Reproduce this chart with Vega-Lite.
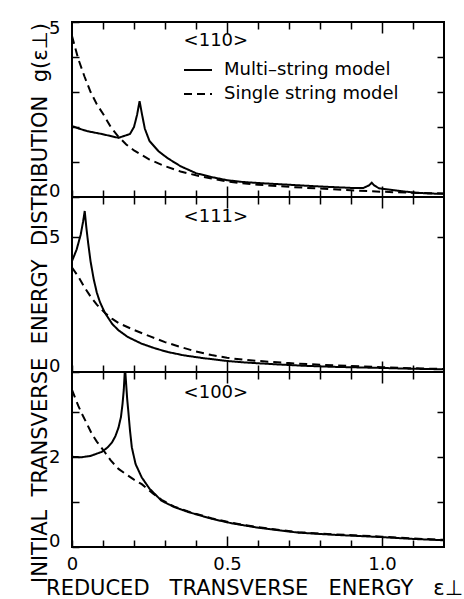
{
  "$schema": "https://vega.github.io/schema/vega-lite/v6.json",
  "padding": {"left": 27, "top": 18, "right": 4, "bottom": 0},
  "spacing": 0,
  "bounds": "flush",
  "config": {
    "view": {"stroke": "black", "strokeWidth": 2},
    "font": "DejaVu Sans",
    "axis": {"domain": false, "grid": false, "tickColor": "black", "tickWidth": 1.5, "labelColor": "black", "labelFont": "DejaVu Sans", "labelFontSize": 18, "titleColor": "black", "titleFont": "DejaVu Sans", "titleFontSize": 21, "titleFontWeight": "normal"},
    "axisY": {"labelFlush": true, "labelFlushOffset": 3, "labelPadding": 19},
    "axisX": {"labelFlush": false},
    "line": {"strokeWidth": 2, "color": "black"}
  },
  "data": {"values": [
    {"p":"110","m":"Multi–string model","e":0,"g":2.03},
    {"p":"110","m":"Multi–string model","e":0.02,"g":1.96},
    {"p":"110","m":"Multi–string model","e":0.05,"g":1.88},
    {"p":"110","m":"Multi–string model","e":0.096,"g":1.8},
    {"p":"110","m":"Multi–string model","e":0.15,"g":1.69},
    {"p":"110","m":"Multi–string model","e":0.187,"g":1.8},
    {"p":"110","m":"Multi–string model","e":0.2,"g":2.0},
    {"p":"110","m":"Multi–string model","e":0.21,"g":2.35},
    {"p":"110","m":"Multi–string model","e":0.218,"g":2.74},
    {"p":"110","m":"Multi–string model","e":0.225,"g":2.4},
    {"p":"110","m":"Multi–string model","e":0.235,"g":1.95},
    {"p":"110","m":"Multi–string model","e":0.25,"g":1.6},
    {"p":"110","m":"Multi–string model","e":0.28,"g":1.3},
    {"p":"110","m":"Multi–string model","e":0.31,"g":1.1},
    {"p":"110","m":"Multi–string model","e":0.35,"g":0.88},
    {"p":"110","m":"Multi–string model","e":0.4,"g":0.68},
    {"p":"110","m":"Multi–string model","e":0.45,"g":0.57},
    {"p":"110","m":"Multi–string model","e":0.5,"g":0.48},
    {"p":"110","m":"Multi–string model","e":0.55,"g":0.43},
    {"p":"110","m":"Multi–string model","e":0.6,"g":0.4},
    {"p":"110","m":"Multi–string model","e":0.7,"g":0.35},
    {"p":"110","m":"Multi–string model","e":0.8,"g":0.3},
    {"p":"110","m":"Multi–string model","e":0.9,"g":0.26},
    {"p":"110","m":"Multi–string model","e":0.94,"g":0.26},
    {"p":"110","m":"Multi–string model","e":0.958,"g":0.33},
    {"p":"110","m":"Multi–string model","e":0.967,"g":0.41},
    {"p":"110","m":"Multi–string model","e":0.975,"g":0.33},
    {"p":"110","m":"Multi–string model","e":0.99,"g":0.25},
    {"p":"110","m":"Multi–string model","e":1.05,"g":0.18},
    {"p":"110","m":"Multi–string model","e":1.1,"g":0.13},
    {"p":"110","m":"Multi–string model","e":1.15,"g":0.1},
    {"p":"110","m":"Multi–string model","e":1.2,"g":0.09},
    {"p":"110","m":"Single string model","e":0,"g":4.6},
    {"p":"110","m":"Single string model","e":0.02,"g":3.95},
    {"p":"110","m":"Single string model","e":0.04,"g":3.45},
    {"p":"110","m":"Single string model","e":0.06,"g":3.0},
    {"p":"110","m":"Single string model","e":0.08,"g":2.65},
    {"p":"110","m":"Single string model","e":0.1,"g":2.38},
    {"p":"110","m":"Single string model","e":0.125,"g":2.0},
    {"p":"110","m":"Single string model","e":0.15,"g":1.72},
    {"p":"110","m":"Single string model","e":0.175,"g":1.5},
    {"p":"110","m":"Single string model","e":0.2,"g":1.33},
    {"p":"110","m":"Single string model","e":0.25,"g":1.07},
    {"p":"110","m":"Single string model","e":0.3,"g":0.88},
    {"p":"110","m":"Single string model","e":0.35,"g":0.73},
    {"p":"110","m":"Single string model","e":0.4,"g":0.62},
    {"p":"110","m":"Single string model","e":0.45,"g":0.53},
    {"p":"110","m":"Single string model","e":0.5,"g":0.44},
    {"p":"110","m":"Single string model","e":0.6,"g":0.35},
    {"p":"110","m":"Single string model","e":0.7,"g":0.29},
    {"p":"110","m":"Single string model","e":0.8,"g":0.24},
    {"p":"110","m":"Single string model","e":0.9,"g":0.19},
    {"p":"110","m":"Single string model","e":1.0,"g":0.15},
    {"p":"110","m":"Single string model","e":1.1,"g":0.12},
    {"p":"110","m":"Single string model","e":1.2,"g":0.1},
    {"p":"111","m":"Multi–string model","e":0,"g":4.12},
    {"p":"111","m":"Multi–string model","e":0.015,"g":4.55},
    {"p":"111","m":"Multi–string model","e":0.028,"g":5.1},
    {"p":"111","m":"Multi–string model","e":0.036,"g":5.6},
    {"p":"111","m":"Multi–string model","e":0.041,"g":5.98},
    {"p":"111","m":"Multi–string model","e":0.046,"g":5.4},
    {"p":"111","m":"Multi–string model","e":0.052,"g":4.8},
    {"p":"111","m":"Multi–string model","e":0.06,"g":4.1},
    {"p":"111","m":"Multi–string model","e":0.07,"g":3.45},
    {"p":"111","m":"Multi–string model","e":0.08,"g":2.95},
    {"p":"111","m":"Multi–string model","e":0.09,"g":2.6},
    {"p":"111","m":"Multi–string model","e":0.106,"g":2.2},
    {"p":"111","m":"Multi–string model","e":0.13,"g":1.78},
    {"p":"111","m":"Multi–string model","e":0.15,"g":1.55},
    {"p":"111","m":"Multi–string model","e":0.18,"g":1.3},
    {"p":"111","m":"Multi–string model","e":0.225,"g":1.05},
    {"p":"111","m":"Multi–string model","e":0.27,"g":0.87},
    {"p":"111","m":"Multi–string model","e":0.31,"g":0.74},
    {"p":"111","m":"Multi–string model","e":0.36,"g":0.62},
    {"p":"111","m":"Multi–string model","e":0.42,"g":0.52},
    {"p":"111","m":"Multi–string model","e":0.5,"g":0.41},
    {"p":"111","m":"Multi–string model","e":0.55,"g":0.36},
    {"p":"111","m":"Multi–string model","e":0.65,"g":0.29},
    {"p":"111","m":"Multi–string model","e":0.75,"g":0.23},
    {"p":"111","m":"Multi–string model","e":0.85,"g":0.19},
    {"p":"111","m":"Multi–string model","e":1.0,"g":0.15},
    {"p":"111","m":"Multi–string model","e":1.1,"g":0.12},
    {"p":"111","m":"Multi–string model","e":1.2,"g":0.1},
    {"p":"111","m":"Single string model","e":0,"g":3.88},
    {"p":"111","m":"Single string model","e":0.02,"g":3.55},
    {"p":"111","m":"Single string model","e":0.04,"g":3.15},
    {"p":"111","m":"Single string model","e":0.06,"g":2.8},
    {"p":"111","m":"Single string model","e":0.08,"g":2.5},
    {"p":"111","m":"Single string model","e":0.106,"g":2.2},
    {"p":"111","m":"Single string model","e":0.13,"g":1.97},
    {"p":"111","m":"Single string model","e":0.15,"g":1.82},
    {"p":"111","m":"Single string model","e":0.2,"g":1.56},
    {"p":"111","m":"Single string model","e":0.25,"g":1.33},
    {"p":"111","m":"Single string model","e":0.3,"g":1.11},
    {"p":"111","m":"Single string model","e":0.35,"g":0.93},
    {"p":"111","m":"Single string model","e":0.4,"g":0.76},
    {"p":"111","m":"Single string model","e":0.45,"g":0.63},
    {"p":"111","m":"Single string model","e":0.5,"g":0.53},
    {"p":"111","m":"Single string model","e":0.55,"g":0.46},
    {"p":"111","m":"Single string model","e":0.6,"g":0.41},
    {"p":"111","m":"Single string model","e":0.7,"g":0.33},
    {"p":"111","m":"Single string model","e":0.8,"g":0.27},
    {"p":"111","m":"Single string model","e":0.9,"g":0.22},
    {"p":"111","m":"Single string model","e":1.0,"g":0.18},
    {"p":"111","m":"Single string model","e":1.1,"g":0.14},
    {"p":"111","m":"Single string model","e":1.2,"g":0.11},
    {"p":"100","m":"Multi–string model","e":0,"g":2.01},
    {"p":"100","m":"Multi–string model","e":0.03,"g":2.0},
    {"p":"100","m":"Multi–string model","e":0.06,"g":2.03},
    {"p":"100","m":"Multi–string model","e":0.096,"g":2.12},
    {"p":"100","m":"Multi–string model","e":0.115,"g":2.22},
    {"p":"100","m":"Multi–string model","e":0.129,"g":2.33},
    {"p":"100","m":"Multi–string model","e":0.14,"g":2.47},
    {"p":"100","m":"Multi–string model","e":0.15,"g":2.66},
    {"p":"100","m":"Multi–string model","e":0.158,"g":2.9},
    {"p":"100","m":"Multi–string model","e":0.163,"g":3.19},
    {"p":"100","m":"Multi–string model","e":0.167,"g":3.5},
    {"p":"100","m":"Multi–string model","e":0.171,"g":4.0},
    {"p":"100","m":"Multi–string model","e":0.175,"g":3.6},
    {"p":"100","m":"Multi–string model","e":0.178,"g":3.3},
    {"p":"100","m":"Multi–string model","e":0.182,"g":3.0},
    {"p":"100","m":"Multi–string model","e":0.187,"g":2.6},
    {"p":"100","m":"Multi–string model","e":0.193,"g":2.22},
    {"p":"100","m":"Multi–string model","e":0.205,"g":1.85},
    {"p":"100","m":"Multi–string model","e":0.225,"g":1.55},
    {"p":"100","m":"Multi–string model","e":0.25,"g":1.3},
    {"p":"100","m":"Multi–string model","e":0.289,"g":1.03},
    {"p":"100","m":"Multi–string model","e":0.33,"g":0.89},
    {"p":"100","m":"Multi–string model","e":0.375,"g":0.78},
    {"p":"100","m":"Multi–string model","e":0.45,"g":0.63},
    {"p":"100","m":"Multi–string model","e":0.514,"g":0.53},
    {"p":"100","m":"Multi–string model","e":0.6,"g":0.43},
    {"p":"100","m":"Multi–string model","e":0.73,"g":0.32},
    {"p":"100","m":"Multi–string model","e":0.85,"g":0.27},
    {"p":"100","m":"Multi–string model","e":1.0,"g":0.22},
    {"p":"100","m":"Multi–string model","e":1.1,"g":0.18},
    {"p":"100","m":"Multi–string model","e":1.2,"g":0.15},
    {"p":"100","m":"Single string model","e":0,"g":3.5},
    {"p":"100","m":"Single string model","e":0.02,"g":3.15},
    {"p":"100","m":"Single string model","e":0.032,"g":2.97},
    {"p":"100","m":"Single string model","e":0.05,"g":2.72},
    {"p":"100","m":"Single string model","e":0.064,"g":2.52},
    {"p":"100","m":"Single string model","e":0.08,"g":2.35},
    {"p":"100","m":"Single string model","e":0.102,"g":2.15},
    {"p":"100","m":"Single string model","e":0.125,"g":1.93},
    {"p":"100","m":"Single string model","e":0.15,"g":1.74},
    {"p":"100","m":"Single string model","e":0.2,"g":1.5},
    {"p":"100","m":"Single string model","e":0.225,"g":1.4},
    {"p":"100","m":"Single string model","e":0.26,"g":1.2},
    {"p":"100","m":"Single string model","e":0.289,"g":1.05},
    {"p":"100","m":"Single string model","e":0.33,"g":0.9},
    {"p":"100","m":"Single string model","e":0.375,"g":0.79},
    {"p":"100","m":"Single string model","e":0.45,"g":0.64},
    {"p":"100","m":"Single string model","e":0.514,"g":0.54},
    {"p":"100","m":"Single string model","e":0.6,"g":0.44},
    {"p":"100","m":"Single string model","e":0.73,"g":0.33},
    {"p":"100","m":"Single string model","e":0.85,"g":0.28},
    {"p":"100","m":"Single string model","e":1.0,"g":0.23},
    {"p":"100","m":"Single string model","e":1.1,"g":0.19},
    {"p":"100","m":"Single string model","e":1.2,"g":0.16}
  ]},
  "resolve": {"scale": {"strokeDash": "independent"}, "legend": {"strokeDash": "independent"}},
  "vconcat": [
    {
      "width": 372, "height": 175,
      "layer": [
        {
          "transform": [{"filter": "datum.p == '110'"}],
          "mark": {"type": "line", "clip": true, "strokeWidth": 2, "color": "black"},
          "encoding": {
            "x": {"field": "e", "type": "quantitative", "scale": {"domain": [0, 1.2], "nice": false, "zero": false},
                  "axis": {"orient": "bottom", "values": [0,0.1,0.2,0.3,0.4,0.5,0.6,0.7,0.8,0.9,1.0,1.1], "labels": false, "title": null,
                           "tickSize": {"condition": {"test": "abs(datum.value-0.5)<0.001 || abs(datum.value-1)<0.001", "value": -11}, "value": -7}}},
            "y": {"field": "g", "type": "quantitative", "scale": {"domain": [0, 5], "nice": false},
                  "axis": {"orient": "left", "values": [0,1,2,3,4,5], "tickSize": -7, "title": null,
                           "labelExpr": "datum.value == 0 || datum.value == 5 ? datum.label : ''"}},
            "strokeDash": {"field": "m", "type": "nominal",
                           "scale": {"domain": ["Multi–string model", "Single string model"], "range": [[1, 0], [8, 5]]},
                           "legend": {"orient": "none", "legendX": 111, "legendY": 33, "title": null, "symbolType": "stroke",
                                      "symbolSize": 784, "symbolStrokeWidth": 2, "symbolStrokeColor": "black", "rowPadding": -2,
                                      "labelFont": "DejaVu Sans", "labelFontSize": 18, "labelColor": "black", "labelOffset": 11,
                                      "labelLimit": 400, "padding": 0}}
          }
        },
        {
          "transform": [{"filter": "datum.p == '110'"}],
          "mark": {"type": "line", "opacity": 0},
          "encoding": {
            "x": {"field": "e", "type": "quantitative",
                  "axis": {"orient": "top", "values": [0.1,0.2,0.3,0.4,0.5,0.6,0.7,0.8,0.9,1.0,1.1], "labels": false, "title": null,
                           "tickSize": {"condition": {"test": "abs(datum.value-0.5)<0.001 || abs(datum.value-1)<0.001", "value": -11}, "value": -7}}},
            "y": {"field": "g", "type": "quantitative",
                  "axis": {"orient": "right", "values": [1,2,3,4], "labels": false, "tickSize": -7, "title": null}},
            "detail": {"field": "m"}
          }
        },
        {
          "data": {"values": [{}]},
          "mark": {"type": "text", "align": "left", "baseline": "middle", "fontSize": 18, "font": "DejaVu Sans", "color": "black"},
          "encoding": {
            "x": {"datum": 0.36, "type": "quantitative", "axis": null},
            "y": {"datum": 4.46, "type": "quantitative", "axis": null},
            "text": {"value": "<110>"}
          }
        }
      ]
    },
    {
      "width": 372, "height": 175,
      "layer": [
        {
          "transform": [{"filter": "datum.p == '111'"}],
          "mark": {"type": "line", "clip": true, "strokeWidth": 2, "color": "black"},
          "encoding": {
            "x": {"field": "e", "type": "quantitative", "scale": {"domain": [0, 1.2], "nice": false, "zero": false},
                  "axis": {"orient": "bottom", "values": [0,0.1,0.2,0.3,0.4,0.5,0.6,0.7,0.8,0.9,1.0,1.1], "labels": false, "title": null,
                           "tickSize": {"condition": {"test": "abs(datum.value-0.5)<0.001 || abs(datum.value-1)<0.001", "value": -11}, "value": -7}}},
            "y": {"field": "g", "type": "quantitative", "scale": {"domain": [0, 6.5], "nice": false},
                  "axis": {"orient": "left", "values": [0,5], "tickSize": -7,
                           "title": "INITIAL\u00a0\u00a0TRANSVERSE\u00a0\u00a0ENERGY\u00a0\u00a0DISTRIBUTION\u00a0\u00a0g(ε⊥)",
                           "titleY": 105.5, "titleX": -22, "titleBaseline": "bottom", "titleAngle": 270}},
            "strokeDash": {"field": "m", "type": "nominal",
                           "scale": {"domain": ["Multi–string model", "Single string model"], "range": [[1, 0], [8, 5]]},
                           "legend": null}
          }
        },
        {
          "transform": [{"filter": "datum.p == '111'"}],
          "mark": {"type": "line", "opacity": 0},
          "encoding": {
            "x": {"field": "e", "type": "quantitative",
                  "axis": {"orient": "top", "values": [0.1,0.2,0.3,0.4,0.5,0.6,0.7,0.8,0.9,1.0,1.1], "labels": false, "title": null,
                           "tickSize": {"condition": {"test": "abs(datum.value-0.5)<0.001 || abs(datum.value-1)<0.001", "value": -11}, "value": -7}}},
            "y": {"field": "g", "type": "quantitative",
                  "axis": {"orient": "right", "values": [5], "labels": false, "tickSize": -7, "title": null}},
            "detail": {"field": "m"}
          }
        },
        {
          "data": {"values": [{}]},
          "mark": {"type": "text", "align": "left", "baseline": "middle", "fontSize": 18, "font": "DejaVu Sans", "color": "black"},
          "encoding": {
            "x": {"datum": 0.36, "type": "quantitative", "axis": null},
            "y": {"datum": 5.75, "type": "quantitative", "axis": null},
            "text": {"value": "<111>"}
          }
        }
      ]
    },
    {
      "width": 372, "height": 175,
      "layer": [
        {
          "transform": [{"filter": "datum.p == '100'"}],
          "mark": {"type": "line", "clip": true, "strokeWidth": 2, "color": "black"},
          "encoding": {
            "x": {"field": "e", "type": "quantitative", "scale": {"domain": [0, 1.2], "nice": false, "zero": false},
                  "axis": {"orient": "bottom", "values": [0,0.1,0.2,0.3,0.4,0.5,0.6,0.7,0.8,0.9,1.0,1.1],
                           "labelPadding": {"condition": {"test": "abs(datum.value-0.5)<0.001 || abs(datum.value-1)<0.001", "value": 19}, "value": 15},
                           "labelExpr": "datum.value == 0 ? '0' : (abs(datum.value-0.5)<0.001 || abs(datum.value-1)<0.001) ? format(datum.value, '.1f') : ''",
                           "title": "REDUCED\u00a0\u00a0\u00a0TRANSVERSE\u00a0\u00a0\u00a0ENERGY\u00a0\u00a0\u00a0ε⊥", "titlePadding": 4, "titleX": 182,
                           "tickSize": {"condition": {"test": "abs(datum.value-0.5)<0.001 || abs(datum.value-1)<0.001", "value": -11}, "value": -7}}},
            "y": {"field": "g", "type": "quantitative", "scale": {"domain": [0, 3.9], "nice": false},
                  "axis": {"orient": "left", "values": [0,1,2,3], "tickSize": -7, "title": null,
                           "labelExpr": "datum.value == 0 || datum.value == 2 ? datum.label : ''"}},
            "strokeDash": {"field": "m", "type": "nominal",
                           "scale": {"domain": ["Multi–string model", "Single string model"], "range": [[1, 0], [8, 5]]},
                           "legend": null}
          }
        },
        {
          "transform": [{"filter": "datum.p == '100'"}],
          "mark": {"type": "line", "opacity": 0},
          "encoding": {
            "x": {"field": "e", "type": "quantitative",
                  "axis": {"orient": "top", "values": [0.1,0.2,0.3,0.4,0.5,0.6,0.7,0.8,0.9,1.0,1.1], "labels": false, "title": null,
                           "tickSize": {"condition": {"test": "abs(datum.value-0.5)<0.001 || abs(datum.value-1)<0.001", "value": -11}, "value": -7}}},
            "y": {"field": "g", "type": "quantitative",
                  "axis": {"orient": "right", "values": [1,2,3], "labels": false, "tickSize": -7, "title": null}},
            "detail": {"field": "m"}
          }
        },
        {
          "data": {"values": [{}]},
          "mark": {"type": "text", "align": "left", "baseline": "middle", "fontSize": 18, "font": "DejaVu Sans", "color": "black"},
          "encoding": {
            "x": {"datum": 0.36, "type": "quantitative", "axis": null},
            "y": {"datum": 3.43, "type": "quantitative", "axis": null},
            "text": {"value": "<100>"}
          }
        }
      ]
    }
  ]
}
